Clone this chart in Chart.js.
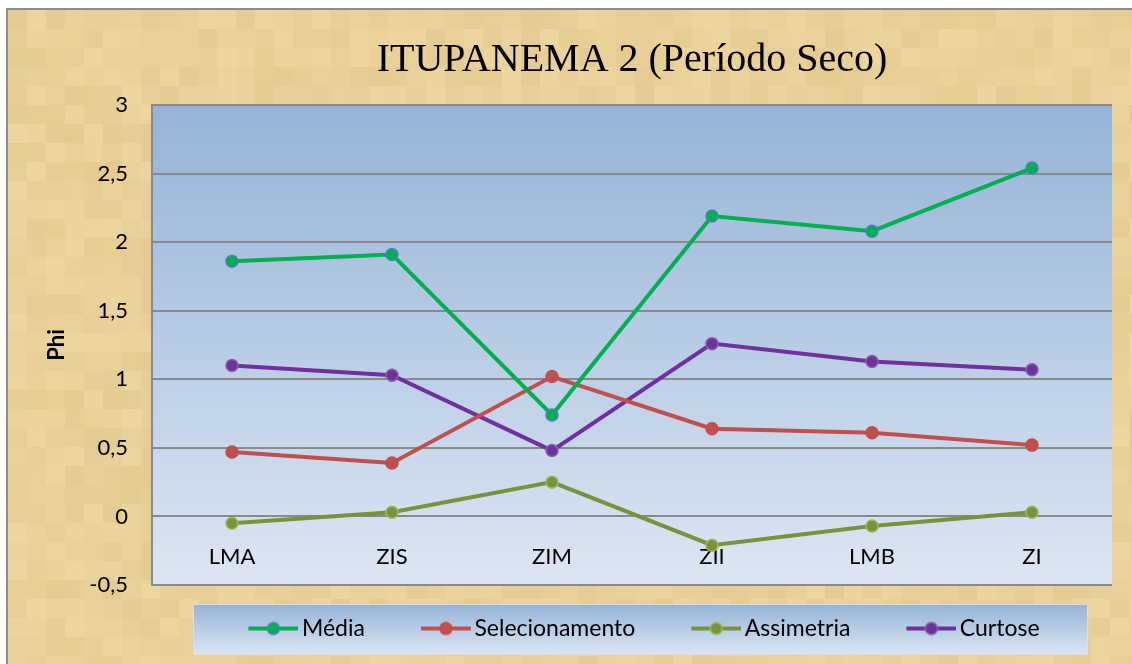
<!DOCTYPE html>
<html>
<head>
<meta charset="utf-8">
<title>ITUPANEMA 2 (Período Seco)</title>
<script src="https://cdn.jsdelivr.net/npm/chart.js@4.4.1/dist/chart.umd.min.js"></script>
<style>
  html, body { margin: 0; padding: 0; background: #fff; overflow: hidden; }
</style>
</head>
<body>
<canvas id="chart" width="1132" height="664"></canvas>
<script>
const categories = ['LMA', 'ZIS', 'ZIM', 'ZII', 'LMB', 'ZI'];
const media = [1.86, 1.91, 0.74, 2.19, 2.08, 2.54];
const selecionamento = [0.47, 0.39, 1.02, 0.64, 0.61, 0.52];
const assimetria = [-0.05, 0.03, 0.25, -0.21, -0.07, 0.03];
const curtose = [1.10, 1.03, 0.48, 1.26, 1.13, 1.07];
const yMin = -0.5;
const yMax = 3;
const yStep = 0.5;

const FONT = 'Lato';

// small canvas for legend: line with a round marker in the middle
function legendIcon(lineColor, fill, border) {
    const c = document.createElement('canvas');
    c.width = 82;
    c.height = 16;
    const g = c.getContext('2d');
    g.strokeStyle = lineColor;
    g.lineWidth = 4;
    g.beginPath();
    g.moveTo(32, 8);
    g.lineTo(82, 8);
    g.stroke();
    g.beginPath();
    g.arc(57, 8, 6, 0, Math.PI * 2);
    g.fillStyle = fill;
    g.fill();
    g.lineWidth = 1.5;
    g.strokeStyle = border;
    g.stroke();
    return c;
}

function series(label, data, line, fill, border) {
    return {
        label: label,
        data: data,
        borderColor: line,
        backgroundColor: fill,
        borderWidth: 4,
        pointRadius: 6,
        pointHoverRadius: 6,
        pointStyle: 'circle',
        pointBackgroundColor: fill,
        pointBorderColor: border,
        pointBorderWidth: 1.5,
        tension: 0,
        icon: legendIcon(line, fill, border)
    };
}

// hashed shade for the parchment blocks
function shade(i, j) {
    const h = Math.sin(i * 12.9898 + j * 78.233) * 43758.5453;
    return h - Math.floor(h);
}

const backdrop = {
    id: 'backdrop',
    beforeDraw(chart) {
        const { ctx, width, height, chartArea: a } = chart;
        ctx.save();
        ctx.fillStyle = '#ffffff';
        ctx.fillRect(0, 0, width, height);
        const bs = 19;
        for (let i = 0; i * bs < width; i++) {
            for (let j = 0; j * bs < height; j++) {
                const s = shade(i, j) - 0.5;
                const r = Math.round(233 + s * 9);
                const gg = Math.round(208 + s * 11);
                const b = Math.round(152 + s * 14);
                ctx.fillStyle = `rgb(${r},${gg},${b})`;
                ctx.fillRect(8 + i * bs, 10 + j * bs, bs, bs);
            }
        }
        ctx.strokeStyle = '#8c8c8c';
        ctx.lineWidth = 2;
        ctx.beginPath();
        ctx.moveTo(7, height);
        ctx.lineTo(7, 9);
        ctx.lineTo(width, 9);
        ctx.stroke();

        const pg = ctx.createLinearGradient(0, a.top, 0, a.bottom);
        pg.addColorStop(0, '#95b3d7');
        pg.addColorStop(1, '#dde6f3');
        ctx.fillStyle = pg;
        ctx.fillRect(a.left, a.top, a.right - a.left, a.bottom - a.top);

        const lg = ctx.createLinearGradient(0, 604, 0, 655);
        lg.addColorStop(0, '#95b3d7');
        lg.addColorStop(1, '#dde6f3');
        ctx.fillStyle = lg;
        ctx.fillRect(193, 604, 895, 51);
        ctx.strokeStyle = '#d9dee6';
        ctx.lineWidth = 1;
        ctx.strokeRect(193.5, 604.5, 894, 50);
        ctx.restore();
    }
};

const ctx = document.getElementById('chart').getContext('2d');
const chart = new Chart(ctx, {
    type: 'line',
    data: {
        labels: categories,
        datasets: [
            series('Média', media, '#00b050', '#00b050', '#4f81bd'),
            series('Selecionamento', selecionamento, '#c0504d', '#c0504d', '#c0504d'),
            series('Assimetria', assimetria, '#77933c', '#77933c', '#9bbb59'),
            series('Curtose', curtose, '#7030a0', '#7030a0', '#8064a2')
        ]
    },
    plugins: [backdrop],
    options: {
        responsive: false,
        animation: false,
        devicePixelRatio: 1,
        layout: { padding: { left: 0, right: 20, top: 0, bottom: 14 } },
        plugins: {
            tooltip: { enabled: false },
            title: {
                display: true,
                text: 'ITUPANEMA 2 (Período Seco)',
                fullSize: false,
                color: '#000',
                font: { family: 'Liberation Serif', size: 40, weight: 'normal' },
                padding: { top: 36, bottom: 21 }
            },
            legend: {
                position: 'bottom',
                fullSize: false,
                labels: {
                    usePointStyle: true,
                    pointStyleWidth: 66,
                    boxWidth: 66,
                    padding: 32,
                    color: '#000',
                    font: { family: FONT, size: 23 },
                    generateLabels(chart) {
                        const items = Chart.defaults.plugins.legend.labels.generateLabels(chart);
                        items.forEach(it => {
                            it.pointStyle = chart.data.datasets[it.datasetIndex].icon;
                        });
                        return items;
                    }
                }
            }
        },
        scales: {
            x: {
                type: 'category',
                position: { y: 0 },
                offset: true,
                grid: { display: false },
                border: { display: false },
                ticks: {
                    color: '#000',
                    padding: 19,
                    maxRotation: 0,
                    autoSkip: false,
                    font: { family: FONT, size: 22 }
                }
            },
            y: {
                min: yMin,
                max: yMax,
                afterFit(scale) { scale.width = 152; },
                grid: { color: '#8a8a8a', lineWidth: 2, drawTicks: false },
                border: { display: true, color: '#8a8a8a', width: 2 },
                ticks: {
                    stepSize: yStep,
                    padding: 24,
                    color: '#000',
                    font: { family: FONT, size: 22 },
                    callback: v => String(v).replace('.', ',')
                },
                title: {
                    display: true,
                    text: 'Phi',
                    color: '#000',
                    font: { family: FONT, size: 22, weight: 'bold' },
                    padding: { top: 44, bottom: 0 }
                }
            }
        }
    }
});
</script>
</body>
</html>
